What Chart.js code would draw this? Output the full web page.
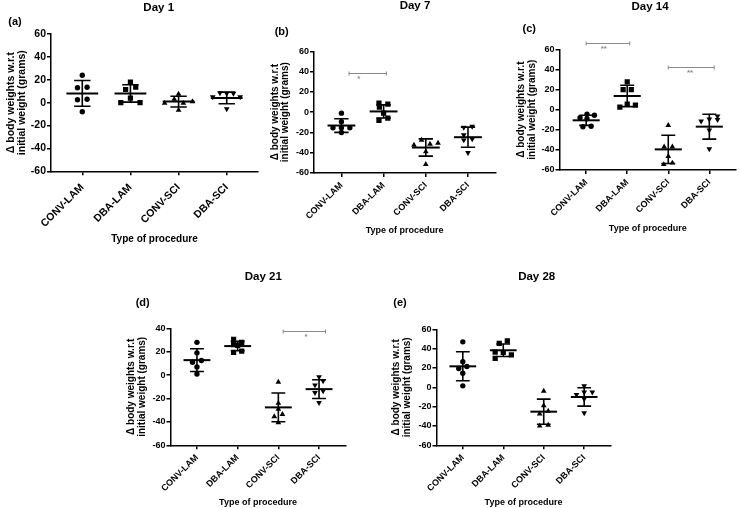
<!DOCTYPE html>
<html>
<head>
<meta charset="utf-8">
<script src="https://cdn.jsdelivr.net/npm/chart.js@4.4.1/dist/chart.umd.min.js"></script>
<style>
  html, body { margin: 0; padding: 0; background: #fff; }
  #wrap { position: relative; width: 740px; height: 508px; }
  #wrap canvas { position: absolute; left: 0; top: 0; }
</style>
</head>
<body>
<div id="wrap">
  <canvas id="day1" width="740" height="508"></canvas>
  <canvas id="day7" width="740" height="508"></canvas>
  <canvas id="day14" width="740" height="508"></canvas>
  <canvas id="day21" width="740" height="508"></canvas>
  <canvas id="day28" width="740" height="508"></canvas>
</div>
<script>
const groups = ['CONV-LAM', 'DBA-LAM', 'CONV-SCI', 'DBA-SCI'];

// Day 1
const day1Values = [
  [24, 13, 13.5, 2.5, 3, -8],
  [18, 11.5, 13.5, 4, 0, 0],
  [7.5, 3, -0.5, -0.5, 1, -6.5],
  [8.5, 8, 8, 5, 5, -5.5]
];
const day1Jitter = [
  [0, -0.1, 0.1, -0.1, 0.1, 0],
  [0, -0.1, 0.11, 0, -0.2, 0.2],
  [0, -0.09, 0.1, -0.29, 0.29, 0],
  [-0.14, 0, 0.14, -0.29, 0.28, 0]
];
const day1Means = [8.1, 8.1, 0.9, 4.1];
const day1Sds = [11.3, 7.6, 4.7, 5.1];
const day1Sig = [];

// Day 7
const day7Values = [
  [-1, -9.5, -15.5, -15.5, -15.5, -20],
  [9, 8, 5, -1, -8, -6],
  [-32.5, -27.5, -31.5, -30.5, -39, -51.5],
  [-15, -14, -22.5, -26.5, -27.5, -40]
];
const day7Jitter = [
  [0, 0, -0.2, 0, 0.2, 0],
  [-0.11, 0.1, -0.1, 0, -0.11, 0.1],
  [-0.28, -0.1, 0.1, 0.29, 0, 0],
  [-0.1, 0.1, -0.1, 0.1, -0.1, 0]
];
const day7Means = [-13.2, 0.7, -34.9, -24.7];
const day7Sds = [6.7, 6.5, 8.5, 9.9];
const day7Sig = [{ from: 1.18, to: 2.07, y: 38.2, label: '*', labelX: 1.41 }];

// Day 14
const day14Values = [
  [-8, -4.5, -5.5, -17, -16.5, -9],
  [27.5, 20, 20, 2.5, 5.5, 4.5],
  [-15.5, -37, -37, -46.5, -54.5, -53],
  [-11.5, -9.5, -6.5, -10, -20.5, -39]
];
const day14Jitter = [
  [-0.15, 0.02, 0.2, -0.08, 0.12, 0.02],
  [0, -0.1, 0.1, -0.18, 0, 0.2],
  [0, -0.1, 0.1, 0, -0.11, 0.1],
  [-0.2, 0, 0.2, 0.2, 0, 0]
];
const day14Means = [-10.6, 13.6, -39.5, -16.9];
const day14Sds = [5, 10.6, 14, 12.4];
const day14Sig = [
  { from: 1.0, to: 2.06, y: 66.3, label: '**', labelX: 1.43 },
  { from: 3.0, to: 4.12, y: 42.5, label: '**', labelX: 3.53 }
];

// Day 21
const day21Values = [
  [28, 19, 11, 12.5, 7, 1],
  [30.5, 26, 19.5, 28, 20.5, 25.5],
  [-6, -24, -29, -35.5, -33.5, -40.5],
  [-1.5, -5, -8.5, -13.5, -15, -23.5]
];
const day21Jitter = [
  [0, 0, -0.11, 0.11, 0, 0],
  [-0.1, -0.1, -0.1, 0.1, 0.1, 0],
  [0, 0, 0, -0.1, 0.1, 0],
  [0, 0.1, -0.1, 0.1, -0.1, 0]
];
const day21Means = [12.8, 24.8, -27.6, -12];
const day21Sds = [9.7, 4, 12.3, 8];
const day21Sig = [{ from: 3.12, to: 4.16, y: 37.3, label: '*', labelX: 3.68 }];

// Day 28
const day28Values = [
  [47, 26.5, 19.5, 21.5, 14.5, 1.5],
  [45.5, 48, 36.5, 36, 33.5, 30],
  [-4, -19, -27.5, -24.5, -40, -39],
  [1.5, -7.5, -5, -5, -12, -26.5]
];
const day28Jitter = [
  [0, 0, -0.1, 0.1, 0, 0],
  [-0.1, 0.1, -0.2, 0, 0.2, -0.2],
  [0, 0, -0.1, 0.11, -0.1, 0.11],
  [0, -0.19, 0, 0.2, 0, 0]
];
const day28Means = [21.7, 38.3, -25.2, -10];
const day28Sds = [15, 6.5, 13, 9.5];
const day28Sig = [];

const FONT = "'Liberation Sans', Arial, Helvetica, sans-serif";
const markerStyles = [
  { pointStyle: 'circle', radius: 2.7, rotation: 0 },
  { pointStyle: 'rect', radius: 3.7, rotation: 0 },
  { pointStyle: 'triangle', radius: 3.3, rotation: 0 },
  { pointStyle: 'triangle', radius: 3.3, rotation: 180 }
];
const Y_TITLE_LH = 10.7;

// panel (a) was exported a little larger than the others
const bigText = { tick: 10.5, tickPad: 6, xTitle: 10, yTitle: 10.5 };
const smallText = { tick: 9, tickPad: 3, xTitle: 9, yTitle: 10 };

// where each panel sits on the page
const panels = [
  { id: 'day1', title: 'Day 1', letter: '(a)', values: day1Values, jitter: day1Jitter, means: day1Means, sds: day1Sds, sig: day1Sig, yMax: 60, text: bigText,
    box: { L: 51, R: 258, T: 34, B: 171.3, yTitleX: 11, xTitleY: 239.3, titleAt: [158.7, 8], letterAt: [15, 21.7] } },
  { id: 'day7', title: 'Day 7', letter: '(b)', values: day7Values, jitter: day7Jitter, means: day7Means, sds: day7Sds, sig: day7Sig, yMax: 60, text: smallText,
    box: { L: 314, R: 495.4, T: 51.3, B: 173, yTitleX: 275, xTitleY: 230.7, titleAt: [415, 5.5], letterAt: [281.7, 31.7] } },
  { id: 'day14', title: 'Day 14', letter: '(c)', values: day14Values, jitter: day14Jitter, means: day14Means, sds: day14Sds, sig: day14Sig, yMax: 60, text: smallText,
    box: { L: 559.5, R: 738.5, T: 49.3, B: 170, yTitleX: 521.7, xTitleY: 228.3, titleAt: [650, 7], letterAt: [529.3, 29.3] } },
  { id: 'day21', title: 'Day 21', letter: '(d)', values: day21Values, jitter: day21Jitter, means: day21Means, sds: day21Sds, sig: day21Sig, yMax: 40, text: smallText,
    box: { L: 170.5, R: 345.5, T: 328.3, B: 445.3, yTitleX: 131.5, xTitleY: 502.3, titleAt: [263.3, 276.7], letterAt: [142.7, 303.3] } },
  { id: 'day28', title: 'Day 28', letter: '(e)', values: day28Values, jitter: day28Jitter, means: day28Means, sds: day28Sds, sig: day28Sig, yMax: 60, text: smallText,
    box: { L: 436.5, R: 610.5, T: 329.3, B: 445.3, yTitleX: 396.7, xTitleY: 502.3, titleAt: [536.7, 277.3], letterAt: [400, 302.7] } }
];

// mean line + SD whiskers, significance brackets, panel headings
const summaryPlugin = {
  id: 'summary',
  afterDatasetsDraw(chart, args, opts) {
    const { ctx, scales: { x, y } } = chart;
    ctx.save();
    ctx.strokeStyle = '#000';
    opts.means.forEach((m, i) => {
      const cx = i + 1;
      const top = y.getPixelForValue(m + opts.sds[i]);
      const bot = y.getPixelForValue(m - opts.sds[i]);
      const my = y.getPixelForValue(m);
      ctx.lineWidth = 2;
      ctx.beginPath();
      ctx.moveTo(x.getPixelForValue(cx - 0.33), my);
      ctx.lineTo(x.getPixelForValue(cx + 0.33), my);
      ctx.stroke();
      ctx.lineWidth = 1.6;
      ctx.beginPath();
      ctx.moveTo(x.getPixelForValue(cx), top);
      ctx.lineTo(x.getPixelForValue(cx), bot);
      [top, bot].forEach(py => {
        ctx.moveTo(x.getPixelForValue(cx - 0.17), py);
        ctx.lineTo(x.getPixelForValue(cx + 0.17), py);
      });
      ctx.stroke();
    });

    ctx.strokeStyle = '#8a8a8a';
    ctx.fillStyle = '#8a8a8a';
    ctx.lineWidth = 1;
    ctx.font = `bold 8px ${FONT}`;
    ctx.textAlign = 'center';
    ctx.textBaseline = 'middle';
    opts.sig.forEach(s => {
      const x1 = x.getPixelForValue(s.from);
      const x2 = x.getPixelForValue(s.to);
      const py = Math.round(y.getPixelForValue(s.y)) + 0.5;
      ctx.beginPath();
      ctx.moveTo(x1, py); ctx.lineTo(x2, py);
      ctx.moveTo(x1, py - 2); ctx.lineTo(x1, py + 2);
      ctx.moveTo(x2, py - 2); ctx.lineTo(x2, py + 2);
      ctx.stroke();
      ctx.fillText(s.label, x.getPixelForValue(s.labelX), py + 5);
    });
    ctx.restore();
  },
  afterDraw(chart, args, opts) {
    const { ctx } = chart;
    ctx.save();
    ctx.fillStyle = '#000';
    ctx.textAlign = 'center';
    ctx.textBaseline = 'middle';
    ctx.font = `bold 11.5px ${FONT}`;
    ctx.fillText(opts.title, opts.titleAt[0], opts.titleAt[1]);
    ctx.font = `bold 11px ${FONT}`;
    ctx.fillText(opts.letter, opts.letterAt[0], opts.letterAt[1]);
    ctx.restore();
  }
};

panels.forEach(p => {
  const b = p.box;
  const t = p.text;
  const padLeft = b.yTitleX - Y_TITLE_LH / 2;
  const wy = b.L - padLeft;
  const hx = b.xTitleY + t.xTitle * 0.6 - b.B;
  const tickFont = { family: FONT, size: t.tick, weight: 'bold' };

  const datasets = groups.map((g, i) => ({
    label: g,
    data: p.values[i].map((v, k) => ({ x: i + 1 + p.jitter[i][k], y: v })),
    pointStyle: markerStyles[i].pointStyle,
    pointRadius: markerStyles[i].radius,
    rotation: markerStyles[i].rotation,
    backgroundColor: '#000',
    borderColor: '#000',
    borderWidth: 0
  }));

  new Chart(document.getElementById(p.id), {
    type: 'scatter',
    data: { datasets },
    options: {
      responsive: false,
      animation: false,
      events: [],
      layout: { padding: { left: padLeft, top: b.T, right: 740 - b.R, bottom: 508 - b.B - hx } },
      scales: {
        x: {
          type: 'linear',
          min: 0.35,
          max: 4.65,
          afterBuildTicks: ax => { ax.ticks = groups.map((g, i) => ({ value: i + 1 })); },
          afterFit: ax => { ax.height = hx; },
          ticks: {
            autoSkip: false,
            minRotation: 45,
            maxRotation: 45,
            padding: t.tickPad,
            color: '#000',
            font: tickFont,
            callback: v => groups[v - 1]
          },
          grid: { drawOnChartArea: false, tickLength: 4, color: '#000', lineWidth: 1.5 },
          border: { color: '#000', width: 1.5 },
          title: { display: true, text: 'Type of procedure', color: '#000', padding: 0,
                   font: { family: FONT, size: t.xTitle, weight: 'bold', lineHeight: 1.2 } }
        },
        y: {
          min: -60,
          max: p.yMax,
          afterFit: ax => { ax.width = wy; },
          ticks: { stepSize: 20, padding: 1, color: '#000', font: tickFont },
          grid: { drawOnChartArea: false, tickLength: 4, color: '#000', lineWidth: 1.5 },
          border: { color: '#000', width: 1.5 },
          title: { display: true, text: ['\u0394 body weights w.r.t', 'initial weight (grams)'], color: '#000', padding: 0,
                   font: { family: FONT, size: t.yTitle, weight: 'bold', lineHeight: Y_TITLE_LH / t.yTitle } }
        }
      },
      plugins: {
        legend: { display: false },
        tooltip: { enabled: false },
        summary: {
          means: p.means, sds: p.sds, sig: p.sig,
          title: p.title, letter: p.letter, titleAt: b.titleAt, letterAt: b.letterAt
        }
      }
    },
    plugins: [summaryPlugin]
  });
});
</script>
</body>
</html>
